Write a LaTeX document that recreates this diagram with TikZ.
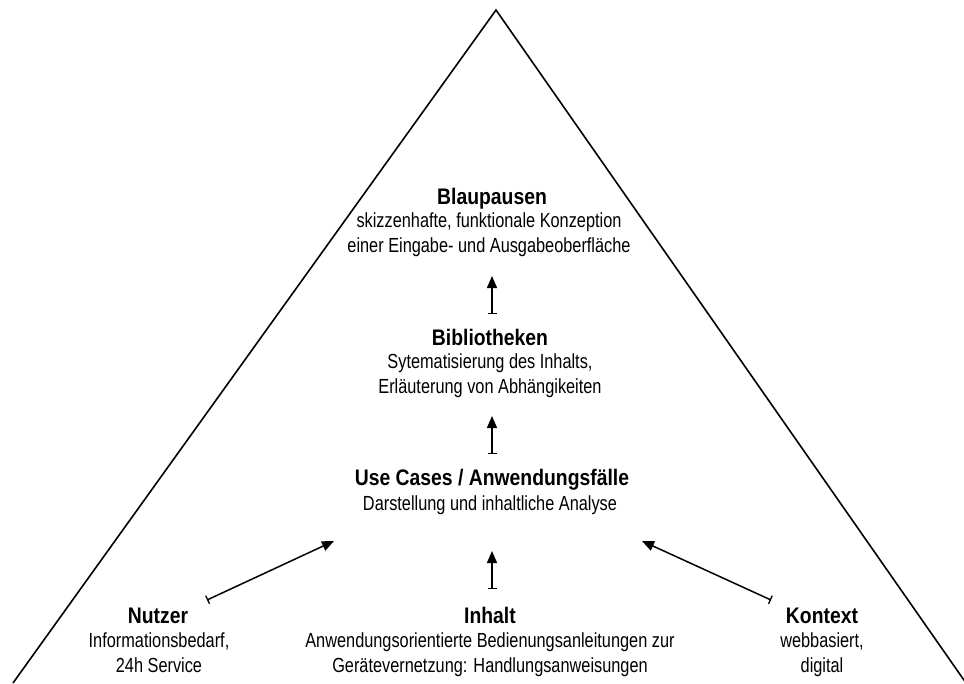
\documentclass[tikz,border=0pt]{standalone}
\usepackage{fontspec}
\setmainfont{Liberation Sans}[FakeStretch=0.8]
\newfontfamily\headfont{Liberation Sans}[FakeStretch=0.86]
\usetikzlibrary{arrows.meta}
\begin{document}
\begin{tikzpicture}[x=1pt,y=-1pt,
  title/.style={font=\headfont\fontsize{22.5}{25}\selectfont\bfseries, inner sep=0pt, anchor=base},
  desc/.style={font=\fontsize{20.4}{24.5}\selectfont, align=center, inner sep=0pt, anchor=base},
  flow/.style={line width=1.5pt, {Bar[width=9pt,line width=1.3pt]}-{Triangle[length=12pt,width=10pt]}}
]
\useasboundingbox (0,0) rectangle (964,683);
\clip (0,0) rectangle (964,683);
% pyramid outline
\draw[line width=1.6pt, line join=miter] (13,683) -- (496,10) -- (966,683);

% levels (description nodes sit on the baseline of their last line)
\node[title] (blau) at (492,204) {Blaupausen};
\node[desc] (blaud) at (489,252) {skizzenhafte, funktionale Konzeption\\einer Eingabe- und Ausgabeoberfläche};

\node[title] (bib) at (490,345) {Bibliotheken};
\node[desc] (bibd) at (490,393) {Sytematisierung des Inhalts,\\Erläuterung von Abhängikeiten};

\node[title] (uc) at (492,485) {Use Cases / Anwendungsfälle};
\node[desc] (ucd) at (490,510) {Darstellung und inhaltliche Analyse};

\node[title] (nutzer) at (158,623) {Nutzer};
\node[desc] (nutzerd) at (159,672) {Informationsbedarf,\\24h Service};

\node[title] (inhalt) at (490,623) {Inhalt};
\node[desc] (inhaltd) at (490,672) {Anwendungsorientierte Bedienungsanleitungen zur\\Gerätevernetzung: Handlungsanweisungen};

\node[title] (kontext) at (822,623) {Kontext};
\node[desc] (kontextd) at (822,672) {webbasiert,\\digital};

% connector ends
\coordinate (a1s) at (492,314); \coordinate (a1e) at (492,276);
\coordinate (a2s) at (492,454); \coordinate (a2e) at (492,416);
\coordinate (a3s) at (492,589); \coordinate (a3e) at (492,551);
\coordinate (a4s) at (207,600); \coordinate (a4e) at (334,541);
\coordinate (a5s) at (771,600); \coordinate (a5e) at (642,541);

\draw[flow] (a1s) -- (a1e);
\draw[flow] (a2s) -- (a2e);
\draw[flow] (a3s) -- (a3e);
\draw[flow] (a4s) -- (a4e);
\draw[flow] (a5s) -- (a5e);
\end{tikzpicture}
\end{document}
